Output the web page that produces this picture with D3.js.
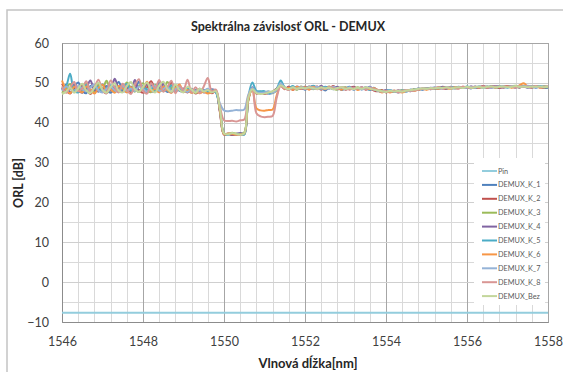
<!DOCTYPE html>
<html>
<head>
<meta charset="utf-8">
<script src="https://cdn.jsdelivr.net/npm/d3@7"></script>
<style>
  body { margin: 0; background: #fff; }
  svg { display: block; font-family: Lato, "Open Sans", sans-serif; }
</style>
</head>
<body>
<svg id="chart" width="563" height="372"></svg>
<script>
// wavelength grid, 0.1 nm step from 1546 to 1558
const wavelengths = d3.range(0, 121).map(i => +(1546 + i / 10).toFixed(1));

const pinWl = [1546, 1558];
const pinVal = [-7.7, -7.7];

const demuxK1 = [
  48.2, 49.5, 47.6, 48.9, 50.1, 48.0, 47.4, 49.2, 48.6, 47.8,
  49.6, 48.3, 47.5, 48.8, 50.2, 48.1, 47.9, 49.0, 48.4, 50.3,
  48.7, 47.6, 49.4, 48.2, 50.0, 48.9, 47.7, 48.5, 49.3, 48.0,
  47.9, 48.4, 47.6, 48.1, 47.8, 48.3, 47.5, 47.9, 47.7, 43.0,
  37.3, 37.1, 37.2, 37.0, 37.3, 37.4, 45.8, 48.8, 47.6, 47.4,
  47.7, 47.3, 47.5, 48.3, 49.6, 48.7, 48.4, 49.0, 48.6, 48.9,
  48.3, 48.8, 49.2, 48.5, 48.7, 48.1, 48.9, 48.4, 48.8, 48.2,
  48.6, 49.0, 48.3, 48.7, 48.4, 48.9, 48.2, 48.5, 48.0, 47.8,
  48.1, 47.7, 47.9, 47.6, 48.0, 47.8, 48.3, 48.1, 48.5, 48.3,
  48.6, 48.4, 48.8, 48.5, 48.7, 48.9, 48.6, 48.8, 49.0, 48.7,
  48.9, 48.6, 49.1, 48.8, 49.0, 48.7, 49.2, 48.9, 48.8, 49.1,
  48.9, 49.2, 48.8, 49.3, 49.0, 48.9, 49.2, 48.8, 49.1, 48.9, 48.7
];
const demuxK2 = [
  49.8, 48.1, 47.3, 48.7, 47.9, 49.6, 48.4, 47.2, 48.8, 49.9,
  48.0, 47.4, 49.1, 48.5, 47.7, 49.3, 48.9, 47.6, 49.5, 48.2,
  47.5, 48.9, 50.4, 48.3, 47.8, 49.1, 48.6, 50.0, 47.9, 48.8,
  48.2, 47.6, 48.5, 47.3, 48.0, 47.7, 48.2, 47.4, 48.0, 42.6,
  37.0, 37.2, 36.9, 37.1, 37.0, 37.2, 46.0, 48.3, 47.3, 47.6,
  47.2, 47.5, 47.8, 48.6, 49.3, 48.4, 49.1, 48.2, 48.8, 48.5,
  49.0, 48.4, 48.7, 49.1, 48.3, 48.9, 48.6, 49.2, 48.5, 48.8,
  48.3, 48.7, 49.0, 48.5, 48.8, 48.3, 48.6, 48.1, 47.9, 48.2,
  47.6, 48.0, 47.8, 48.1, 47.7, 48.2, 47.9, 48.4, 48.2, 48.6,
  48.4, 48.7, 48.5, 48.9, 48.6, 48.5, 48.9, 48.7, 48.6, 49.0,
  48.8, 49.0, 48.7, 48.9, 49.2, 48.8, 49.0, 49.1, 48.7, 49.0,
  49.2, 48.9, 49.1, 48.8, 49.3, 49.0, 48.8, 49.1, 49.0, 48.7, 48.9
];
const demuxK3 = [
  47.5, 48.6, 49.7, 48.0, 48.9, 47.6, 49.8, 48.3, 47.7, 49.4,
  48.6, 50.5, 48.2, 47.9, 49.0, 48.4, 50.1, 48.7, 47.8, 49.2,
  49.9, 48.1, 47.7, 49.5, 48.6, 47.9, 50.2, 48.8, 48.0, 49.1,
  47.8, 48.5, 48.0, 47.5, 48.3, 47.9, 47.6, 48.2, 47.8, 43.2,
  37.4, 37.2, 37.5, 37.3, 37.2, 37.5, 45.5, 48.6, 47.8, 47.5,
  47.6, 47.8, 47.4, 48.1, 49.8, 48.9, 48.5, 48.8, 48.3, 49.1,
  48.6, 49.0, 48.4, 48.9, 48.5, 48.7, 49.1, 48.5, 48.3, 48.8,
  48.9, 48.5, 48.6, 48.9, 48.5, 48.7, 48.4, 48.6, 48.2, 48.0,
  47.9, 47.8, 48.0, 47.9, 48.2, 48.0, 48.2, 48.4, 48.3, 48.5,
  48.7, 48.5, 48.6, 48.8, 48.9, 48.7, 48.8, 48.6, 48.9, 48.8,
  49.0, 48.8, 48.9, 49.0, 48.9, 49.1, 48.9, 49.0, 49.2, 48.9,
  49.0, 49.1, 49.3, 49.0, 49.1, 49.2, 49.0, 49.1, 48.9, 49.2, 49.0
];
const demuxK4 = [
  48.8, 47.9, 48.5, 49.6, 48.1, 47.5, 48.7, 50.6, 48.2, 47.9,
  48.3, 49.2, 48.0, 51.0, 48.6, 47.8, 48.9, 48.2, 50.7, 47.9,
  48.4, 49.6, 48.1, 47.7, 48.9, 49.8, 48.2, 47.6, 49.0, 48.4,
  48.6, 47.9, 48.3, 47.8, 48.5, 47.6, 47.9, 48.4, 47.9, 42.8,
  37.1, 37.3, 37.0, 37.2, 37.4, 37.1, 45.9, 48.9, 47.5, 47.8,
  47.5, 47.7, 47.6, 48.2, 49.5, 48.6, 48.9, 48.4, 49.1, 48.7,
  48.5, 49.1, 48.8, 48.6, 49.3, 48.4, 48.8, 48.6, 49.0, 48.5,
  48.8, 48.4, 48.9, 48.6, 48.9, 48.5, 49.0, 48.3, 48.1, 47.9,
  48.2, 47.9, 47.7, 48.1, 47.9, 48.1, 48.0, 48.2, 48.6, 48.4,
  48.5, 48.8, 48.6, 48.7, 49.0, 48.8, 48.7, 48.9, 48.7, 48.9,
  48.7, 49.1, 48.9, 48.8, 49.1, 49.0, 48.8, 49.2, 49.0, 48.8,
  49.1, 49.0, 48.9, 49.2, 49.1, 48.8, 49.0, 49.2, 48.9, 48.8, 49.1
];
const demuxK5 = [
  48.5, 49.2, 52.3, 48.0, 47.6, 48.9, 49.5, 47.8, 48.6, 49.0,
  47.7, 48.8, 49.4, 48.1, 47.9, 48.6, 49.7, 48.0, 48.5, 47.7,
  49.0, 48.3, 48.8, 47.9, 49.3, 48.5, 48.1, 49.4, 47.8, 48.6,
  48.0, 48.6, 47.9, 48.3, 47.7, 48.1, 47.8, 48.3, 47.6, 43.1,
  37.2, 37.0, 37.3, 37.1, 37.2, 37.0, 46.4, 50.1, 48.0, 47.9,
  47.9, 47.4, 47.7, 48.5, 50.6, 48.8, 48.6, 49.2, 48.4, 48.7,
  48.8, 48.5, 49.3, 48.7, 48.5, 49.0, 48.7, 48.9, 48.4, 48.6,
  48.5, 48.8, 48.6, 48.4, 48.7, 48.6, 48.3, 48.8, 48.0, 47.8,
  48.0, 48.2, 47.8, 47.7, 48.1, 47.9, 48.1, 48.3, 48.5, 48.4,
  48.6, 48.5, 48.7, 48.6, 48.8, 48.6, 49.0, 48.8, 48.8, 48.7,
  49.1, 48.9, 48.8, 49.1, 48.8, 49.0, 49.1, 48.8, 49.0, 49.1,
  48.8, 49.1, 49.0, 48.9, 49.2, 49.1, 48.9, 49.0, 49.2, 48.9, 48.8
];
const demuxK6 = [
  50.6, 48.3, 47.4, 49.0, 48.2, 47.6, 49.1, 48.5, 47.3, 48.7,
  49.5, 47.8, 48.4, 47.5, 49.2, 48.7, 47.6, 48.9, 48.3, 47.8,
  48.6, 50.3, 47.9, 48.5, 47.6, 49.0, 48.2, 47.5, 48.7, 49.6,
  47.7, 48.2, 47.5, 48.0, 47.4, 47.8, 47.3, 47.7, 48.1, 42.9,
  37.1, 37.3, 37.2, 37.0, 37.1, 37.3, 45.7, 48.5, 43.6, 43.1,
  43.0, 43.2, 43.3, 46.8, 49.4, 48.5, 48.8, 48.3, 49.0, 48.6,
  48.9, 48.3, 49.0, 48.6, 48.8, 48.4, 48.9, 48.5, 48.7, 48.3,
  48.7, 48.4, 48.8, 48.2, 48.6, 48.8, 48.4, 48.7, 48.1, 47.6,
  47.9, 47.6, 48.0, 47.8, 47.6, 48.0, 48.2, 48.0, 48.4, 48.5,
  48.3, 48.6, 48.8, 48.5, 48.8, 48.7, 48.5, 48.9, 48.7, 48.8,
  48.9, 48.7, 49.0, 48.8, 49.0, 48.9, 49.1, 48.8, 49.0, 48.9,
  49.1, 48.8, 49.0, 49.4, 49.9, 49.1, 48.9, 49.1, 48.8, 48.9, 49.0
];
const demuxK7 = [
  48.0, 49.1, 48.6, 47.7, 49.3, 48.4, 47.9, 48.8, 49.6, 48.1,
  47.6, 48.5, 49.0, 48.2, 47.7, 49.4, 48.0, 48.6, 47.9, 49.1,
  48.5, 47.8, 48.9, 49.3, 48.0, 48.4, 49.1, 47.8, 48.3, 48.9,
  48.1, 47.7, 48.4, 47.9, 48.2, 48.0, 48.5, 47.8, 47.9, 44.8,
  43.1, 42.9, 43.0, 43.2, 43.1, 43.3, 47.0, 48.7, 47.7, 47.5,
  47.6, 47.9, 47.5, 48.2, 49.9, 48.7, 48.3, 48.9, 48.5, 49.0,
  48.7, 48.9, 48.5, 49.0, 48.6, 48.8, 48.5, 49.0, 48.6, 48.9,
  48.4, 48.9, 48.5, 48.8, 48.3, 48.6, 48.9, 48.4, 48.0, 47.9,
  47.8, 48.1, 47.9, 47.8, 48.0, 48.1, 47.9, 48.3, 48.4, 48.6,
  48.5, 48.6, 48.9, 48.7, 48.6, 48.9, 48.7, 48.6, 48.9, 48.8,
  48.8, 49.0, 48.8, 49.1, 48.9, 49.0, 48.8, 49.0, 49.1, 49.0,
  48.9, 49.2, 49.0, 49.1, 49.0, 49.3, 49.1, 48.9, 49.0, 49.1, 48.9
];
const demuxK8 = [
  49.1, 47.5, 48.8, 50.2, 47.9, 48.6, 50.4, 47.7, 48.9, 50.8,
  48.2, 47.4, 50.6, 48.9, 47.6, 49.8, 48.3, 47.2, 49.5, 50.9,
  48.0, 47.3, 49.9, 48.6, 50.7, 47.8, 48.9, 50.5, 47.4, 49.2,
  48.3, 50.8, 47.6, 48.9, 47.4, 49.1, 51.2, 47.8, 48.3, 44.0,
  40.6, 40.4, 40.5, 40.3, 40.6, 40.8, 46.5, 48.4, 42.4, 41.6,
  41.4, 41.5, 41.7, 46.2, 49.2, 48.6, 48.2, 48.8, 48.4, 48.9,
  48.5, 48.8, 48.9, 48.4, 48.7, 48.5, 49.0, 48.7, 48.4, 48.9,
  48.6, 48.3, 48.7, 48.5, 48.9, 48.4, 48.7, 48.5, 48.2, 47.8,
  48.0, 47.8, 48.1, 47.6, 47.9, 48.2, 48.0, 48.1, 48.3, 48.5,
  48.6, 48.4, 48.7, 48.9, 48.6, 48.8, 48.9, 48.7, 48.8, 49.0,
  48.9, 48.8, 49.0, 48.9, 49.1, 48.8, 49.0, 49.1, 48.9, 49.1,
  49.0, 49.1, 48.8, 49.2, 49.0, 49.1, 49.0, 49.2, 48.9, 49.0, 49.1
];
const demuxBez = [
  47.2, 47.8, 48.9, 47.5, 48.6, 49.8, 48.1, 47.4, 48.8, 50.0,
  48.2, 47.5, 48.9, 49.9, 48.0, 47.6, 49.2, 50.2, 48.4, 47.7,
  49.0, 50.1, 48.3, 47.6, 49.3, 50.3, 48.5, 47.8, 49.6, 48.2,
  47.6, 49.0, 48.3, 47.5, 48.6, 47.8, 48.2, 47.6, 47.9, 43.5,
  37.3, 37.1, 37.4, 37.2, 37.0, 37.3, 46.2, 48.4, 47.4, 47.2,
  47.3, 47.6, 47.9, 48.4, 49.4, 48.8, 48.4, 48.9, 48.5, 48.8,
  48.6, 48.9, 48.7, 48.5, 48.9, 48.6, 48.8, 48.4, 48.7, 48.9,
  48.5, 48.7, 48.4, 48.8, 48.5, 48.9, 48.6, 48.3, 48.1, 47.9,
  47.7, 48.0, 47.8, 48.0, 47.8, 48.1, 48.2, 48.3, 48.5, 48.6,
  48.5, 48.7, 48.6, 48.8, 48.7, 48.9, 48.6, 48.8, 48.9, 48.7,
  49.0, 48.8, 48.9, 49.0, 48.8, 49.0, 49.1, 48.9, 49.0, 49.1,
  48.9, 49.0, 49.2, 49.0, 49.1, 48.9, 49.1, 49.0, 49.1, 48.9, 49.0
];

const seriesNames = ['Pin', 'DEMUX_K_1', 'DEMUX_K_2', 'DEMUX_K_3', 'DEMUX_K_4',
  'DEMUX_K_5', 'DEMUX_K_6', 'DEMUX_K_7', 'DEMUX_K_8', 'DEMUX_Bez'];
const seriesColors = ['#93CDDD', '#4F81BD', '#C0504D', '#9BBB59', '#8064A2',
  '#4BACC6', '#F79646', '#95B3D7', '#D99694', '#C3D69B'];

const xTicks = [1546, 1548, 1550, 1552, 1554, 1556, 1558];
const yTicks = [-10, 0, 10, 20, 30, 40, 50, 60];

let series = [
  { name: seriesNames[0], pts: pinWl.map((w, i) => [w, pinVal[i]]) }
];
[demuxK1, demuxK2, demuxK3, demuxK4, demuxK5, demuxK6, demuxK7, demuxK8, demuxBez]
  .forEach((vals, k) => {
    series.push({ name: seriesNames[k + 1], pts: vals.map((v, i) => [wavelengths[i], v]) });
  });

let margin = { left: 62, right: 548, top: 43, bottom: 322 };

let x = d3.scaleLinear().domain([1546, 1558]).range([margin.left, margin.right]);
let y = d3.scaleLinear().domain([-10, 60]).range([margin.bottom, margin.top]);

let $svg = d3.select('#chart');

// chart area border
$svg.append('rect')
  .attr('x', 7).attr('y', 10)
  .attr('width', 620).attr('height', 420)
  .attr('fill', '#fff')
  .attr('stroke', '#c4c4c4')
  .attr('stroke-width', 1.5);

// minor grid
let $grid = $svg.append('g');
$grid.selectAll('.vminor')
  .data(d3.range(0, 31).map(i => 1546 + i * 0.4))
  .enter().append('line')
  .attr('x1', d => Math.round(x(d)) + 0.5).attr('x2', d => Math.round(x(d)) + 0.5)
  .attr('y1', margin.top).attr('y2', margin.bottom)
  .attr('stroke', '#d9d9d9').attr('stroke-width', 1);

$grid.selectAll('.hminor')
  .data(d3.range(-10, 61, 5))
  .enter().append('line')
  .attr('x1', margin.left).attr('x2', margin.right)
  .attr('y1', d => Math.round(y(d)) + 0.5).attr('y2', d => Math.round(y(d)) + 0.5)
  .attr('stroke', '#d9d9d9').attr('stroke-width', 1);

$grid.selectAll('.vmajor')
  .data(xTicks)
  .enter().append('line')
  .attr('x1', d => Math.round(x(d)) + 0.5).attr('x2', d => Math.round(x(d)) + 0.5)
  .attr('y1', margin.top).attr('y2', margin.bottom)
  .attr('stroke', '#a6a6a6').attr('stroke-width', 1);

$grid.selectAll('.hmajor')
  .data(yTicks)
  .enter().append('line')
  .attr('x1', margin.left).attr('x2', margin.right)
  .attr('y1', d => Math.round(y(d)) + 0.5).attr('y2', d => Math.round(y(d)) + 0.5)
  .attr('stroke', '#cfcfcf').attr('stroke-width', 1);

// plot area border
$svg.append('rect')
  .attr('x', margin.left + 0.5).attr('y', margin.top + 0.5)
  .attr('width', margin.right - margin.left).attr('height', margin.bottom - margin.top)
  .attr('fill', 'none').attr('stroke', '#a6a6a6');

// axes (labels only, Excel-like)
let xAxis = d3.axisBottom(x).tickValues(xTicks).tickSize(0).tickPadding(15).tickFormat(d3.format('d'));
let yAxis = d3.axisLeft(y).tickValues(yTicks).tickSize(0).tickPadding(13).tickFormat(d3.format('d'));

let $xa = $svg.append('g').attr('transform', `translate(0,${margin.bottom})`).call(xAxis);
let $ya = $svg.append('g').attr('transform', `translate(${margin.left},0)`).call(yAxis);
[$xa, $ya].forEach($a => {
  $a.select('.domain').attr('stroke', '#8c8c8c');
  $a.selectAll('text').attr('fill', '#404040').style('font-size', '12.5px').style('font-family', 'Lato, sans-serif');
});

// lines (smoothed, like Excel)
let line = d3.line().curve(d3.curveCatmullRom.alpha(0.5)).x(d => x(d[0])).y(d => y(d[1]));
$svg.append('g').selectAll('path')
  .data(series)
  .enter().append('path')
  .attr('d', d => line(d.pts))
  .attr('fill', 'none')
  .attr('stroke', (d, i) => seriesColors[i])
  .attr('stroke-width', 2)
  .attr('stroke-linejoin', 'round');

// legend
let $legend = $svg.append('g');
$legend.append('rect')
  .attr('x', 474).attr('y', 158)
  .attr('width', 71).attr('height', 147)
  .attr('fill', '#fff');

let $items = $legend.selectAll('.item')
  .data(seriesNames)
  .enter().append('g')
  .attr('transform', (d, i) => `translate(0,${171 + i * 13.9})`);
$items.append('line')
  .attr('x1', 482).attr('x2', 497)
  .attr('stroke', (d, i) => seriesColors[i])
  .attr('stroke-width', 2);
$items.append('text')
  .attr('x', 498).attr('dy', '0.35em')
  .attr('fill', '#595959')
  .style('font-size', '7.3px')
  .text(d => d);

// titles
$svg.append('text')
  .attr('x', 288).attr('y', 31)
  .attr('text-anchor', 'middle')
  .attr('fill', '#262626')
  .style('font-size', '12.5px').style('font-weight', 'bold')
  .text('Spektrálna závislosť ORL - DEMUX');

$svg.append('text')
  .attr('x', 308).attr('y', 368)
  .attr('text-anchor', 'middle')
  .attr('fill', '#262626')
  .style('font-size', '13px').style('font-weight', 'bold')
  .text('Vlnová dĺžka[nm]');

$svg.append('text')
  .attr('transform', `translate(23,183) rotate(-90)`)
  .attr('text-anchor', 'middle')
  .attr('fill', '#262626')
  .style('font-size', '12.5px').style('font-weight', 'bold')
  .text('ORL [dB]');
</script>
</body>
</html>
